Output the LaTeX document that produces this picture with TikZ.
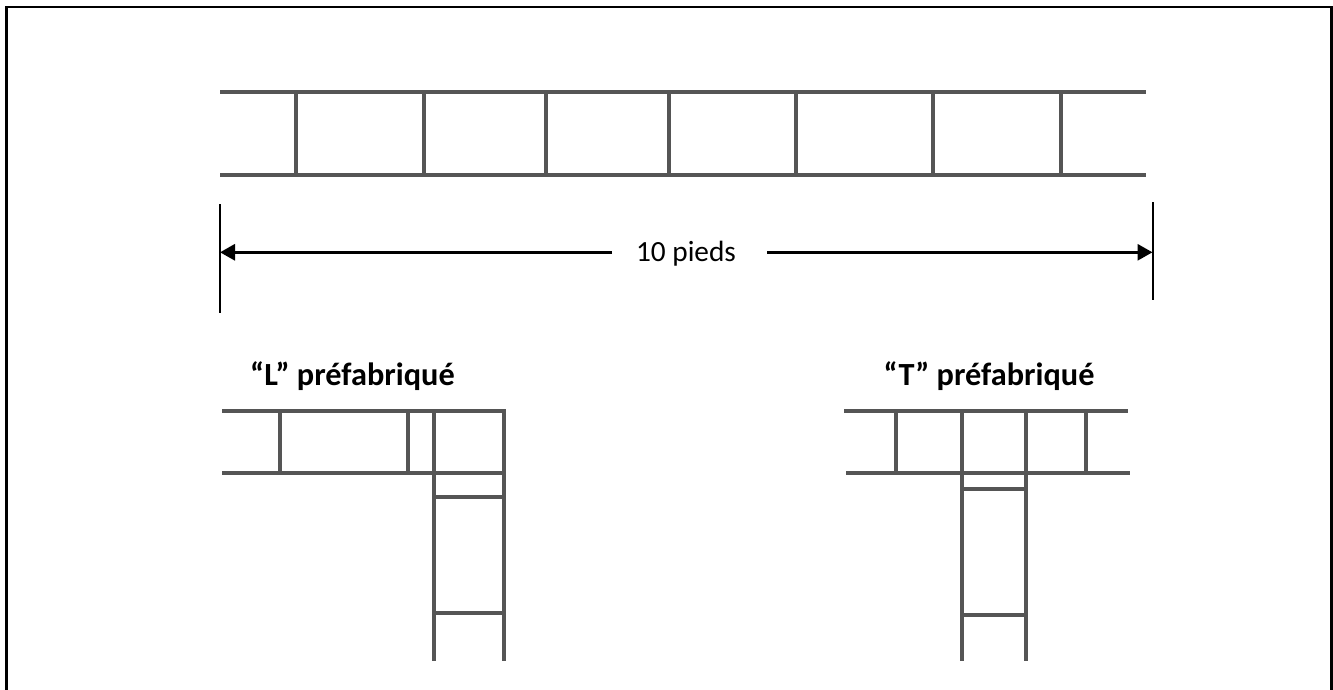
\documentclass[tikz,border=0pt]{standalone}
\usepackage{fontspec}
\setmainfont{Carlito}
\usetikzlibrary{arrows.meta}
\definecolor{wallgray}{RGB}{85,85,85}
\tikzset{
  wall/.style={draw=wallgray,line width=4pt},
  dim/.style={draw=black,line width=2pt},
  dimarrow/.style={draw=black,line width=3pt,-{Triangle[length=15pt,width=16pt]}},
  frameline/.style={draw=black,line width=2.6pt},
  dimlabel/.style={font=\fontsize{29.3}{34}\selectfont,inner sep=0pt,anchor=base},
  titlelabel/.style={font=\fontsize{32.3}{38}\selectfont\bfseries,inner sep=0pt,anchor=base}
}
\begin{document}
\begin{tikzpicture}[x=1pt,y=-1pt]
\useasboundingbox (0,0) rectangle (1333,690);
\fill[white] (0,0) rectangle (1333,690);
% frame
\draw[frameline] (6.5,690) -- (6.5,7) -- (1331.5,7) -- (1331.5,690);
% top wall
\draw[wall] (220,92) -- (1146,92);
\draw[wall] (220,175) -- (1146,175);
\foreach \x in {296,424,546,669,796,933,1061}
  \draw[wall] (\x,92) -- (\x,175);
% dimension
\coordinate (dl) at (220,252.3);
\coordinate (dr) at (1152.5,252.3);
\draw[dim] (220,204) -- (220,312.5);
\draw[dim] (1152.5,202) -- (1152.5,300);
\node[dimlabel] (dlabel) at (686,261.7) {10 pieds};
\coordinate (gapl) at (612,252.3);
\coordinate (gapr) at (767,252.3);
\draw[dimarrow] (gapl) -- (dl);
\draw[dimarrow] (gapr) -- (dr);
% titles
\node[titlelabel] (ltitle) at (352.5,385.7) {“L” préfabriqué};
\node[titlelabel] (ttitle) at (989,385.7) {“T” préfabriqué};
% L
\draw[wall] (222,410.7) -- (506,410.7);
\draw[wall] (222,472.7) -- (506,472.7);
\draw[wall] (280,410.7) -- (280,472.7);
\draw[wall] (408,410.7) -- (408,472.7);
\draw[wall] (434,410.7) -- (434,661);
\draw[wall] (504,410.7) -- (504,661);
\draw[wall] (434,496.7) -- (504,496.7);
\draw[wall] (434,612.7) -- (504,612.7);
% T
\draw[wall] (844,410.7) -- (1128,410.7);
\draw[wall] (846,472.7) -- (1130,472.7);
\draw[wall] (896,410.7) -- (896,472.7);
\draw[wall] (1086,410.7) -- (1086,472.7);
\draw[wall] (962,410.7) -- (962,661);
\draw[wall] (1026,410.7) -- (1026,661);
\draw[wall] (962,488.7) -- (1026,488.7);
\draw[wall] (962,614.7) -- (1026,614.7);
\end{tikzpicture}
\end{document}
